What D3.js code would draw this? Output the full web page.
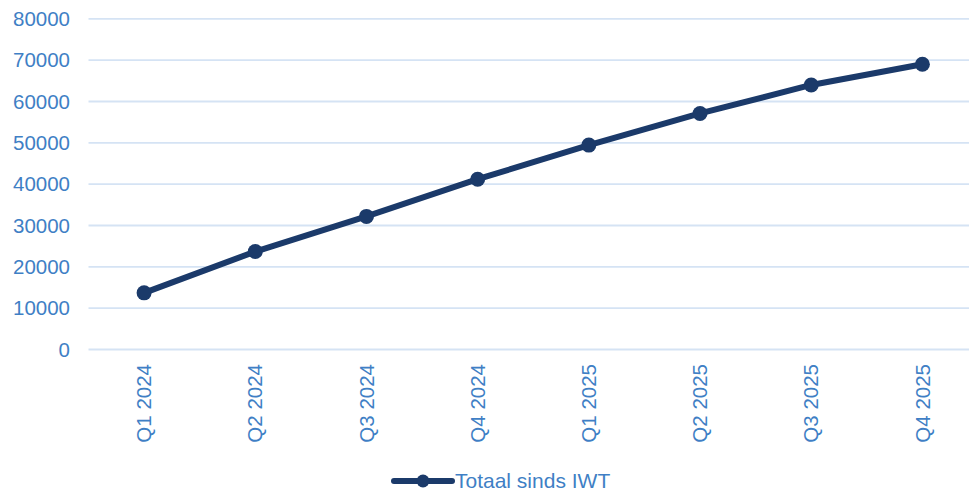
<!DOCTYPE html>
<html>
<head>
<meta charset="utf-8">
<script src="https://cdn.jsdelivr.net/npm/d3@7"></script>
<style>
  body { margin: 0; background: #fff; }
  svg { display: block; font-family: "Liberation Sans", Arial, sans-serif; }
</style>
</head>
<body>
<div id="chart-area"></div>
<script>
// quarters and running total
const quarters = ["Q1 2024", "Q2 2024", "Q3 2024", "Q4 2024", "Q1 2025", "Q2 2025", "Q3 2025", "Q4 2025"]
const totals = [13700, 23700, 32200, 41200, 49450, 57100, 64000, 69000]
const yTicks = [0, 10000, 20000, 30000, 40000, 50000, 60000, 70000, 80000]
const seriesName = "Totaal sinds IWT"

const width = 969, height = 492
const textColor = "#3f7fc5"
const lineColor = "#1b3a6a"
const gridColor = "#d5e3f4"

const svg = d3.select("#chart-area").append("svg")
  .attr("width", width)
  .attr("height", height)

const x = d3.scaleBand()
  .domain(quarters)
  .range([88.5, 978]) // plot area runs past the right edge, like the source
const y = d3.scaleLinear()
  .domain([0, 80000])
  .range([349.5, 18.8])

// gridlines
svg.append("g")
  .selectAll("line")
  .data(yTicks)
  .enter().append("line")
  .attr("x1", 88.5)
  .attr("x2", width)
  .attr("y1", d => y(d))
  .attr("y2", d => y(d))
  .attr("stroke", gridColor)
  .attr("stroke-width", 1.8)

// y axis labels
const yAxis = svg.append("g")
  .attr("transform", "translate(70,0)")
  .call(d3.axisLeft(y).tickValues(yTicks).tickSize(0).tickPadding(0).tickFormat(d3.format("d")))
yAxis.select(".domain").remove()
yAxis.selectAll("text")
  .attr("fill", textColor)
  .attr("font-size", "20.5px")
  .attr("font-family", "Liberation Sans, Arial, sans-serif")

// x axis labels, rotated
const xAxis = svg.append("g")
  .attr("transform", "translate(0,364)")
  .call(d3.axisBottom(x).tickSize(0).tickPadding(0))
xAxis.select(".domain").remove()
xAxis.selectAll("text")
  .attr("fill", textColor)
  .attr("font-size", "20.5px")
  .attr("font-family", "Liberation Sans, Arial, sans-serif")
  .attr("transform", "rotate(-90)")
  .attr("text-anchor", "end")
  .attr("x", 0)
  .attr("y", 0)
  .attr("dy", "0.35em")

// line + markers
const cx = d => x(d) + x.bandwidth() / 2
const line = d3.line()
  .x((d, i) => cx(quarters[i]))
  .y(d => y(d))

svg.append("path")
  .datum(totals)
  .attr("fill", "none")
  .attr("stroke", lineColor)
  .attr("stroke-width", 6)
  .attr("stroke-linejoin", "round")
  .attr("d", line)

svg.selectAll("circle.pt")
  .data(totals)
  .enter().append("circle")
  .attr("class", "pt")
  .attr("cx", (d, i) => cx(quarters[i]))
  .attr("cy", d => y(d))
  .attr("r", 7.5)
  .attr("fill", lineColor)

// legend
const legend = svg.append("g").attr("transform", "translate(394,481)")
legend.append("line")
  .attr("x1", 0).attr("x2", 58)
  .attr("y1", 0).attr("y2", 0)
  .attr("stroke", lineColor)
  .attr("stroke-width", 6)
  .attr("stroke-linecap", "round")
legend.append("circle")
  .attr("cx", 29).attr("cy", 0).attr("r", 6.5)
  .attr("fill", lineColor)
legend.append("text")
  .attr("x", 61)
  .attr("y", 0)
  .attr("dy", "0.35em")
  .attr("fill", textColor)
  .attr("font-size", "21px")
  .text(seriesName)
</script>
</body>
</html>
